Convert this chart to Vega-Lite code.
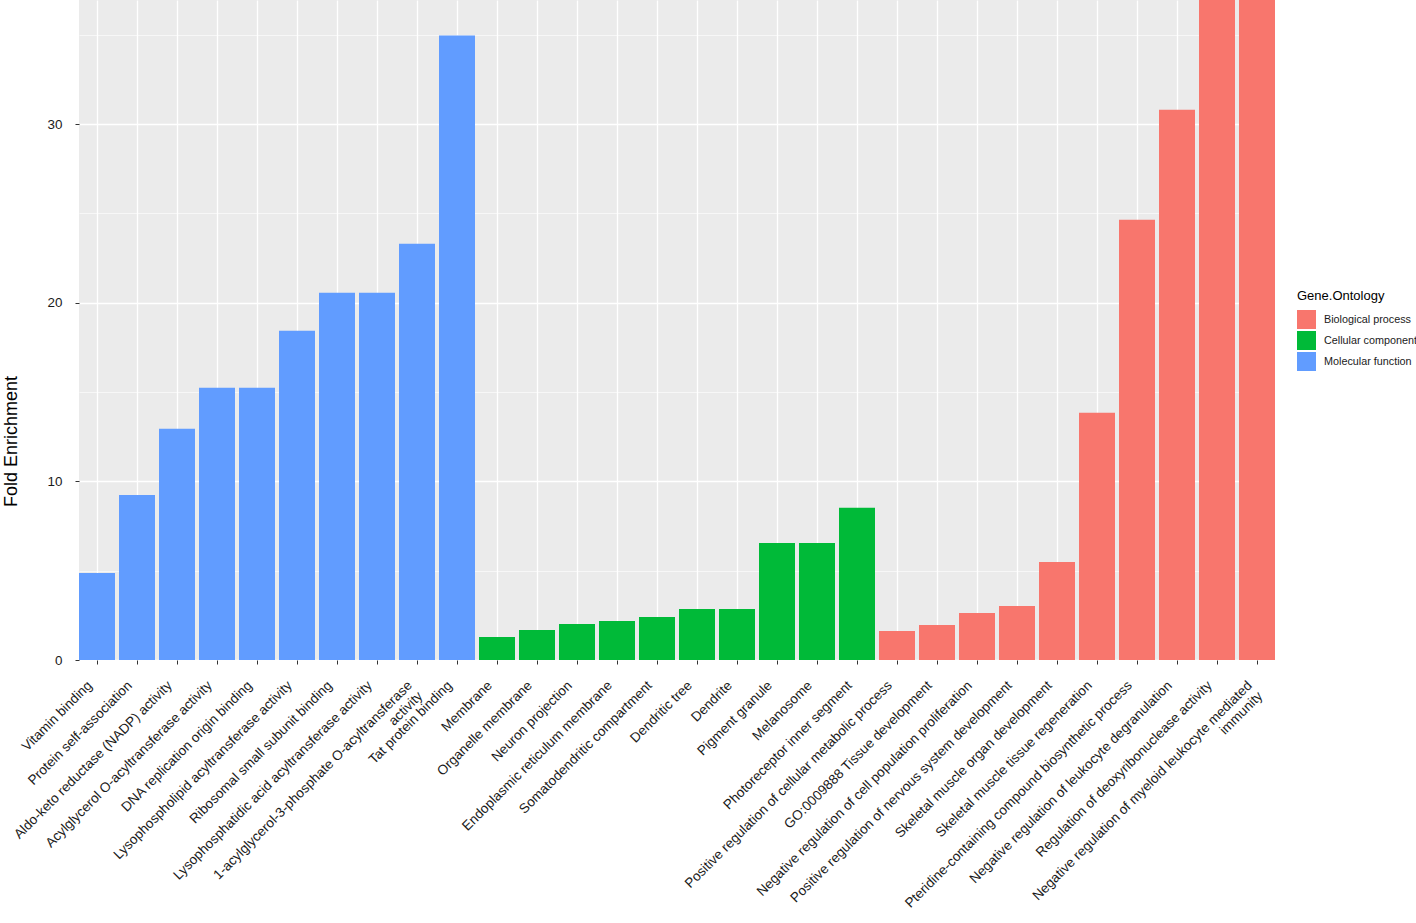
{
  "$schema": "https://vega.github.io/schema/vega-lite/v6.json",
  "width": 1196,
  "height": 660,
  "autosize": {"type": "none"},
  "padding": {"left": 79, "top": 0, "right": 141, "bottom": 263},
  "background": "white",
  "config": {
    "font": "Liberation Sans",
    "view": {"fill": "#EBEBEB", "stroke": null}
  },
  "data": {
    "values": [
      {"term": "Vitamin binding", "fold": 4.87, "ontology": "Molecular function"},
      {"term": "Protein self-association", "fold": 9.24, "ontology": "Molecular function"},
      {"term": "Aldo-keto reductase (NADP) activity", "fold": 12.94, "ontology": "Molecular function"},
      {"term": "Acylglycerol O-acyltransferase activity", "fold": 15.24, "ontology": "Molecular function"},
      {"term": "DNA replication origin binding", "fold": 15.24, "ontology": "Molecular function"},
      {"term": "Lysophospholipid acyltransferase activity", "fold": 18.43, "ontology": "Molecular function"},
      {"term": "Ribosomal small subunit binding", "fold": 20.56, "ontology": "Molecular function"},
      {"term": "Lysophosphatidic acid acyltransferase activity", "fold": 20.56, "ontology": "Molecular function"},
      {"term": "1-acylglycerol-3-phosphate O-acyltransferase|activity", "fold": 23.3, "ontology": "Molecular function"},
      {"term": "Tat protein binding", "fold": 34.96, "ontology": "Molecular function"},
      {"term": "Membrane", "fold": 1.29, "ontology": "Cellular component"},
      {"term": "Organelle membrane", "fold": 1.68, "ontology": "Cellular component"},
      {"term": "Neuron projection", "fold": 2.02, "ontology": "Cellular component"},
      {"term": "Endoplasmic reticulum membrane", "fold": 2.18, "ontology": "Cellular component"},
      {"term": "Somatodendritic compartment", "fold": 2.41, "ontology": "Cellular component"},
      {"term": "Dendritic tree", "fold": 2.86, "ontology": "Cellular component"},
      {"term": "Dendrite", "fold": 2.86, "ontology": "Cellular component"},
      {"term": "Pigment granule", "fold": 6.55, "ontology": "Cellular component"},
      {"term": "Melanosome", "fold": 6.55, "ontology": "Cellular component"},
      {"term": "Photoreceptor inner segment", "fold": 8.52, "ontology": "Cellular component"},
      {"term": "Positive regulation of cellular metabolic process", "fold": 1.62, "ontology": "Biological process"},
      {"term": "GO:0009888 Tissue development", "fold": 1.96, "ontology": "Biological process"},
      {"term": "Negative regulation of cell population proliferation", "fold": 2.63, "ontology": "Biological process"},
      {"term": "Positive regulation of nervous system development", "fold": 3.03, "ontology": "Biological process"},
      {"term": "Skeletal muscle organ development", "fold": 5.49, "ontology": "Biological process"},
      {"term": "Skeletal muscle tissue regeneration", "fold": 13.84, "ontology": "Biological process"},
      {"term": "Pteridine-containing compound biosynthetic process", "fold": 24.65, "ontology": "Biological process"},
      {"term": "Negative regulation of leukocyte degranulation", "fold": 30.8, "ontology": "Biological process"},
      {"term": "Regulation of deoxyribonuclease activity", "fold": 41.1, "ontology": "Biological process"},
      {"term": "Negative regulation of myeloid leukocyte mediated|immunity", "fold": 41.1, "ontology": "Biological process"}
    ]
  },
  "mark": {"type": "bar", "clip": true},
  "encoding": {
    "x": {
      "field": "term",
      "type": "nominal",
      "sort": null,
      "scale": {"paddingInner": 0.1, "paddingOuter": 0},
      "axis": {
        "title": null,
        "domain": false,
        "grid": true,
        "gridColor": "white",
        "gridWidth": 1.3,
        "bandPosition": 0.5,
        "ticks": true,
        "tickSize": 4,
        "tickColor": "#333333",
        "tickWidth": 1,
        "labelAngle": -45,
        "labelAlign": "right",
        "labelBaseline": "top",
        "labelPadding": 14,
        "labelOffset": -12,
        "labelFontSize": 13.6,
        "labelColor": "#1a1a1a",
        "labelLineHeight": 15,
        "labelOverlap": false,
        "labelBound": false,
        "labelLimit": 0,
        "labelExpr": "split(datum.label, '|')"
      }
    },
    "y": {
      "field": "fold",
      "type": "quantitative",
      "scale": {"domain": [0, 36.95], "nice": false, "zero": true},
      "axis": {
        "title": "Fold Enrichment",
        "titleFontSize": 18,
        "titleFontWeight": "normal",
        "titleColor": "#000000",
        "titleX": -63,
        "titleY": 441,
        "titleAngle": -90,
        "titleAlign": "center",
        "titleBaseline": "alphabetic",
        "values": [0, 5, 10, 15, 20, 25, 30, 35],
        "labelExpr": "datum.value % 10 === 0 ? datum.label : ''",
        "domain": false,
        "grid": true,
        "gridColor": "white",
        "gridWidth": {"condition": {"test": "datum.value % 10 === 0", "value": 1.3}, "value": 0.6},
        "tickSize": 4,
        "tickColor": "#333333",
        "tickOpacity": {"condition": {"test": "datum.value % 10 === 0", "value": 1}, "value": 0},
        "labelPadding": 13,
        "labelFontSize": 13.4,
        "labelColor": "#1a1a1a"
      }
    },
    "color": {
      "field": "ontology",
      "type": "nominal",
      "scale": {
        "domain": ["Biological process", "Cellular component", "Molecular function"],
        "range": ["#F8766D", "#00BA38", "#619CFF"]
      },
      "legend": {
        "title": "Gene.Ontology",
        "orient": "none",
        "legendX": 1218,
        "legendY": 290,
        "padding": 0,
        "titleFontSize": 13,
        "titleFontWeight": "normal",
        "titleColor": "#000000",
        "titlePadding": 7,
        "symbolType": "square",
        "symbolSize": 361,
        "symbolStrokeWidth": 0,
        "symbolOpacity": 1,
        "rowPadding": 2,
        "labelOffset": 8,
        "labelFontSize": 10.8,
        "labelColor": "#1a1a1a",
        "labelLimit": 0
      }
    }
  }
}
